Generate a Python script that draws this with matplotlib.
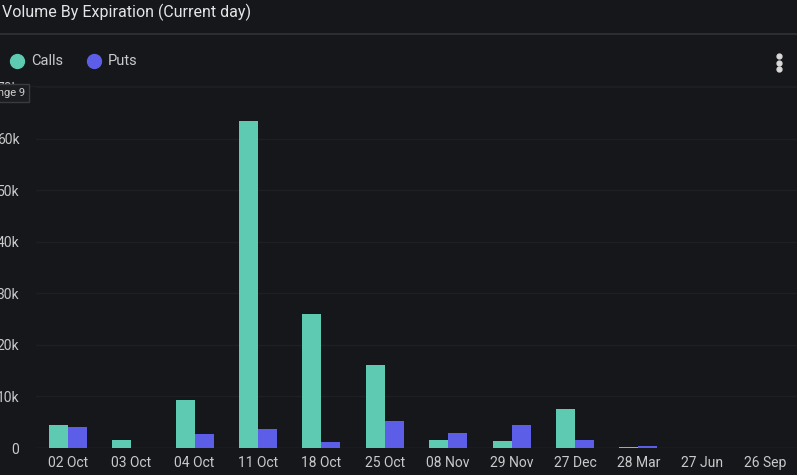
import numpy as np
from matplotlib import pyplot as plt
from matplotlib.lines import Line2D

expirations = ['02 Oct', '03 Oct', '04 Oct', '11 Oct', '18 Oct', '25 Oct',
               '08 Nov', '29 Nov', '27 Dec', '28 Mar', '27 Jun', '26 Sep']
calls = [4400, 1600, 9300, 63500, 26000, 16100, 1600, 1300, 7500, 250, 0, 0]
puts = [4000, 0, 2700, 3600, 1100, 5300, 2900, 4400, 1600, 450, 0, 0]
yticks = [0, 10000, 20000, 30000, 40000, 50000, 60000, 70000]
ytick_labels = ['0', '10k', '20k', '30k', '40k', '50k', '60k', '70k']

bg = '#16171a'
calls_color = '#5ecab1'
puts_color = '#5c5ee8'
text_color = '#c9cacc'

plt.rcParams['font.family'] = ['Roboto', 'DejaVu Sans']

fig = plt.figure(figsize=(7.97, 4.75), dpi=100, facecolor=bg)
ax = fig.add_axes([36 / 797, 27 / 475, 761 / 797, 361 / 475], facecolor=bg)

x = np.arange(len(expirations))
w = 0.3
ax.bar(x - w / 2, calls, width=w, color=calls_color, zorder=3)
ax.bar(x + w / 2, puts, width=w, color=puts_color, zorder=3)

ax.set_xlim(-0.5, len(expirations) - 0.5)
ax.set_ylim(0, 70000)
ax.set_yticks(yticks)
ax.set_yticklabels(ytick_labels)
ax.set_xticks(x)
ax.set_xticklabels(expirations)
ax.tick_params(axis='both', length=0, colors=text_color, labelsize=10)
ax.tick_params(axis='x', pad=6)
ax.tick_params(axis='y', pad=12)
ax.grid(axis='y', color='#1e1f23', linewidth=1, zorder=0)
for s in ax.spines.values():
    s.set_visible(False)
ax.axhline(0, color='#26282c', linewidth=1, zorder=2)

# header
fig.text(2 / 797, 1 - 12 / 475, 'Volume By Expiration (Current day)', color='#e4e5e7',
         fontsize=11.5, va='center', ha='left')
fig.add_artist(Line2D([0, 1], [1 - 34 / 475, 1 - 34 / 475], color='#2b2d31', linewidth=1.5))
fig.add_artist(Line2D([0, 1], [1 - 86 / 475, 1 - 86 / 475], color='#1d1e22', linewidth=1))

# legend
leg_y = 1 - 61 / 475
fig.add_artist(Line2D([17 / 797], [leg_y], marker='o', markersize=10, color=calls_color, linestyle=''))
fig.text(31 / 797, leg_y, 'Calls', color=text_color, fontsize=10.5, va='center')
fig.add_artist(Line2D([94 / 797], [leg_y], marker='o', markersize=10, color=puts_color, linestyle=''))
fig.text(108 / 797, leg_y, 'Puts', color=text_color, fontsize=10.5, va='center')

# menu dots
for dy in (56, 63, 69):
    fig.add_artist(Line2D([779 / 797], [1 - dy / 475], marker='o', markersize=3.5,
                          color='#d8d8d8', linestyle=''))

# clipped tooltip
fig.text(-15 / 797, 1 - 93 / 475, 'Range 9', color='#d0d0d0', fontsize=8, va='center',
         bbox=dict(boxstyle='square,pad=0.35', facecolor='#1c1d20', edgecolor='#3a3b3f'))

fig.savefig('out.png', dpi=100, facecolor=bg)
